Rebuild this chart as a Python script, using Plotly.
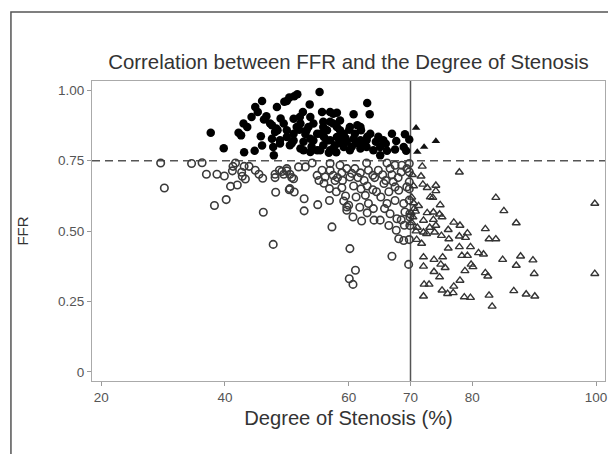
import plotly.graph_objects as go

# ---- data ----
# FFR > 0.75 and stenosis < 70 : filled circles
filled_circle_stenosis = [
    37.7, 39.8, 42.2, 42.6, 43.0, 43.6, 43.1, 44.8, 44.3, 44.9, 45.3, 46.0, 46.3, 46.7, 46.0, 45.8,
    47.3, 47.6, 47.6, 47.8, 47.9, 48.1, 48.4, 48.5, 48.3, 48.9, 48.9, 49.5, 49.6, 50.0, 50.0, 50.0,
    50.4, 50.5, 51.1, 51.1, 51.1, 51.2, 51.6, 51.7, 52.1, 52.2, 52.2, 52.6, 52.7, 52.7, 53.2, 53.7,
    53.8, 53.8, 53.8, 54.3, 54.3, 54.9, 54.9, 55.3, 55.4, 55.4, 55.7, 55.9, 55.9, 55.9, 56.5, 56.5,
    57.0, 57.0, 57.0, 57.0, 57.5, 57.5, 57.5, 58.1, 58.1, 58.1, 58.6, 58.6, 58.6, 58.9, 59.2, 59.2,
    59.7, 60.1, 60.2, 60.2, 60.8, 60.8, 61.0, 61.4, 61.9, 61.9, 61.9, 62.0, 62.4, 62.9, 62.9, 63.0,
    63.4, 63.5, 64.0, 64.4, 65.1, 65.1, 65.6, 66.2, 67.0, 67.7, 68.9, 69.1, 69.3, 69.8,
    50.8, 53.0, 54.0, 56.0, 57.8, 59.5, 60.5, 61.2, 63.0, 64.8, 66.0, 56.8, 58.0, 52.0, 53.5, 49.0, 67.5,
]
filled_circle_ffr = [
    0.849, 0.794, 0.849, 0.840, 0.882, 0.870, 0.780, 0.785, 0.905, 0.941, 0.923, 0.962, 0.896, 0.908, 0.804, 0.837,
    0.882, 0.876, 0.828, 0.799, 0.769, 0.852, 0.941, 0.858, 0.864, 0.811, 0.823, 0.882, 0.959, 0.962, 0.858, 0.834,
    0.974, 0.805, 0.899, 0.846, 0.822, 0.979, 0.870, 0.986, 0.905, 0.882, 0.793, 0.923, 0.817, 0.787, 0.858, 0.950,
    0.905, 0.828, 0.781, 0.882, 0.822, 0.846, 0.787, 0.994, 0.846, 0.787, 0.923, 0.888, 0.870, 0.805, 0.858, 0.822,
    0.923, 0.888, 0.823, 0.787, 0.917, 0.882, 0.793, 0.920, 0.870, 0.834, 0.893, 0.858, 0.822, 0.811, 0.846, 0.799,
    0.817, 0.860, 0.870, 0.787, 0.915, 0.828, 0.846, 0.876, 0.870, 0.823, 0.793, 0.858, 0.805, 0.823, 0.799, 0.955,
    0.915, 0.846, 0.787, 0.817, 0.799, 0.769, 0.823, 0.785, 0.846, 0.820, 0.799, 0.844, 0.785, 0.825,
    0.812, 0.845, 0.800, 0.834, 0.805, 0.830, 0.800, 0.812, 0.835, 0.835, 0.810, 0.778, 0.780, 0.860, 0.870, 0.900, 0.790,
]

# FFR <= 0.75 and stenosis < 70 : open circles
open_circle_stenosis = [
    29.6, 30.2, 34.6, 36.3, 37.0, 38.7, 39.9, 38.3, 40.2, 40.9, 42.0, 41.3, 41.7, 41.2, 42.7, 43.1,
    43.9, 43.3, 42.8, 44.9, 45.5, 46.1, 46.2, 47.8, 48.1, 48.1, 48.2, 48.8, 49.5, 50.0, 50.4, 50.5,
    51.1, 50.0, 51.9, 53.0, 54.1, 54.9, 55.7, 56.2, 57.0, 57.0, 57.5, 57.8, 58.6, 58.9, 59.7, 60.2,
    61.0, 61.9, 62.9, 63.2, 63.9, 64.8, 66.2, 66.7, 67.5, 68.6, 69.4, 50.5, 51.2, 52.8, 52.8, 55.0,
    56.9, 56.9, 58.9, 59.2, 60.0, 59.7, 60.7, 61.2, 62.1, 57.3, 60.2, 61.1, 60.1, 60.7, 62.7, 63.2,
    63.9, 64.0, 64.1, 65.1, 65.2, 65.7, 66.2, 66.7, 67.2, 67.5, 68.1, 67.5, 67.8, 67.7, 68.1, 68.9,
    69.0, 68.9, 69.4, 69.1, 69.7, 67.0, 69.9, 69.8, 69.8, 69.8, 69.8, 69.8, 69.9, 69.9, 69.8,
    55.2, 56.0, 58.2, 59.0, 60.5, 61.5, 62.5, 63.0, 64.2, 65.5, 66.0, 67.0, 68.0, 68.5, 60.8, 62.0,
    64.5, 66.5, 58.0, 59.5, 61.8, 63.0, 65.8, 66.5, 68.5, 59.7, 49.2, 50.8,
]
open_circle_ffr = [
    0.742, 0.653, 0.740, 0.743, 0.702, 0.702, 0.696, 0.591, 0.612, 0.659, 0.664, 0.730, 0.742, 0.714, 0.709, 0.730,
    0.730, 0.685, 0.695, 0.716, 0.702, 0.688, 0.567, 0.453, 0.702, 0.690, 0.638, 0.716, 0.702, 0.714, 0.647, 0.702,
    0.686, 0.722, 0.728, 0.728, 0.742, 0.698, 0.716, 0.692, 0.740, 0.716, 0.698, 0.680, 0.734, 0.707, 0.722, 0.692,
    0.722, 0.707, 0.742, 0.716, 0.698, 0.716, 0.742, 0.722, 0.734, 0.734, 0.722, 0.651, 0.639, 0.615, 0.572, 0.594,
    0.651, 0.609, 0.654, 0.607, 0.592, 0.574, 0.550, 0.621, 0.536, 0.515, 0.438, 0.361, 0.331, 0.311, 0.627, 0.598,
    0.647, 0.580, 0.539, 0.539, 0.621, 0.669, 0.598, 0.562, 0.675, 0.657, 0.645, 0.609, 0.544, 0.503, 0.473, 0.598,
    0.521, 0.467, 0.657, 0.568, 0.382, 0.411, 0.562, 0.740, 0.710, 0.675, 0.650, 0.610, 0.550, 0.520, 0.470,
    0.680, 0.670, 0.690, 0.680, 0.705, 0.690, 0.680, 0.660, 0.690, 0.700, 0.680, 0.700, 0.690, 0.710, 0.660, 0.650,
    0.640, 0.640, 0.640, 0.625, 0.585, 0.565, 0.580, 0.520, 0.540, 0.586, 0.712, 0.690,
]

# stenosis >= 70, FFR <= 0.75 : open triangles
open_triangle_stenosis = [
    71.9, 77.9, 71.7, 72.0, 74.1, 72.7, 74.1, 73.2, 73.6, 83.8, 74.8, 85.1, 99.8, 72.7, 73.7, 74.7,
    75.1, 72.1, 73.7, 87.1, 77.0, 78.0, 74.1, 73.1, 71.1, 76.1, 82.1, 72.1, 72.6, 73.9, 79.2, 77.9,
    75.0, 78.9, 76.2, 82.7, 83.8, 71.8, 79.7, 77.9, 76.1, 78.3, 79.2, 81.0, 81.8, 72.1, 75.2, 84.9,
    87.8, 89.8, 73.8, 74.9, 79.8, 87.1, 72.1, 75.6, 80.1, 73.8, 78.8, 82.1, 82.5, 74.7, 78.0, 90.0,
    99.8, 77.0, 72.2, 73.0, 75.1, 76.0, 76.9, 86.7, 88.7, 90.1, 72.1, 78.7, 79.7, 82.7, 83.2,
    70.3, 70.5, 70.2, 70.6, 70.1, 70.4, 70.8, 70.2, 70.9, 71.0, 70.5, 71.3,
]
open_triangle_ffr = [
    0.730, 0.709, 0.695, 0.666, 0.662, 0.654, 0.643, 0.621, 0.619, 0.619, 0.593, 0.572, 0.598, 0.565, 0.567, 0.560,
    0.550, 0.538, 0.541, 0.529, 0.531, 0.520, 0.520, 0.513, 0.513, 0.505, 0.508, 0.496, 0.491, 0.496, 0.493, 0.482,
    0.484, 0.477, 0.472, 0.472, 0.472, 0.456, 0.444, 0.444, 0.439, 0.413, 0.413, 0.423, 0.418, 0.408, 0.408, 0.399,
    0.411, 0.397, 0.399, 0.382, 0.382, 0.378, 0.375, 0.370, 0.373, 0.356, 0.359, 0.352, 0.340, 0.337, 0.325, 0.349,
    0.349, 0.304, 0.311, 0.311, 0.290, 0.278, 0.281, 0.288, 0.276, 0.269, 0.269, 0.266, 0.264, 0.272, 0.233,
    0.700, 0.660, 0.620, 0.580, 0.565, 0.550, 0.570, 0.530, 0.500, 0.470, 0.600, 0.590,
]

# stenosis >= 70, FFR > 0.75 : filled triangles
filled_triangle_stenosis = [70.9, 74.1, 72.2, 71.1]
filled_triangle_ffr = [0.867, 0.820, 0.799, 0.781]

# reference cut-offs
FFR_CUTOFF = 0.75
STENOSIS_CUTOFF = 70

x_ticks = [20, 40, 60, 70, 80, 100]
y_ticks = [0, 0.25, 0.5, 0.75, 1.0]
y_tick_labels = ["0", "0.25", "0.50", "0.75", "1.00"]

TITLE = "Correlation between FFR and the Degree of Stenosis"
X_TITLE = "Degree of Stenosis (%)"
Y_TITLE = "FFR"

# ---- figure ----
FONT = "Liberation Sans, Arial, Helvetica, sans-serif"
W, H = 608, 454
fig = go.Figure()

fig.add_trace(go.Scatter(
    x=open_circle_stenosis, y=open_circle_ffr, mode="markers",
    marker=dict(symbol="circle-open", size=7.5, color="#3a3a3a", line=dict(width=1.6, color="#3a3a3a")),
    hoverinfo="skip", showlegend=False))
fig.add_trace(go.Scatter(
    x=open_triangle_stenosis, y=open_triangle_ffr, mode="markers",
    marker=dict(symbol="triangle-up-open", size=7, color="#333333", line=dict(width=1.4, color="#333333")),
    hoverinfo="skip", showlegend=False))
fig.add_trace(go.Scatter(
    x=filled_triangle_stenosis, y=filled_triangle_ffr, mode="markers",
    marker=dict(symbol="triangle-up", size=7.5, color="#111111", line=dict(width=0)),
    hoverinfo="skip", showlegend=False))
fig.add_trace(go.Scatter(
    x=filled_circle_stenosis, y=filled_circle_ffr, mode="markers",
    marker=dict(symbol="circle", size=8.5, color="#000000", line=dict(width=0)),
    hoverinfo="skip", showlegend=False))

# reference lines
fig.add_shape(type="line", xref="paper", x0=0, x1=1, yref="y", y0=FFR_CUTOFF, y1=FFR_CUTOFF,
              line=dict(color="#555555", width=1.5, dash="8px,5px"), layer="below")
fig.add_shape(type="line", xref="x", x0=STENOSIS_CUTOFF, x1=STENOSIS_CUTOFF, yref="paper", y0=0, y1=1,
              line=dict(color="#555555", width=1.5), layer="below")

# outer frame of the picture (extends beyond the right/bottom edge)
fig.add_shape(type="rect", xref="paper", yref="paper", x0=-0.158, x1=1.2, y0=-0.6, y1=1.23,
              line=dict(color="#555555", width=1.5), fillcolor="rgba(0,0,0,0)", layer="below")

axis_common = dict(
    showgrid=False, zeroline=False, showline=True, linecolor="#aaaaaa", linewidth=1.2,
    mirror=True, ticks="outside", ticklen=4, tickwidth=1, tickcolor="#999999",
    tickfont=dict(family=FONT, size=13.5, color="#555555"),
)

fig.update_layout(
    width=W, height=H,
    margin=dict(l=92, r=3, t=81, b=73.3, autoexpand=False),
    paper_bgcolor="white", plot_bgcolor="white",
    font=dict(family=FONT, color="#333333"),
    title=dict(text=TITLE, x=0.5, xanchor="center", xref="paper",
               y=1 - 62 / H, yanchor="middle",
               font=dict(family=FONT, size=20.4, color="#333333")),
    xaxis=dict(range=[18.5, 101.45], tickvals=x_ticks, ticktext=[str(v) for v in x_ticks],
               title=dict(text=X_TITLE, font=dict(family=FONT, size=20.2, color="#333333"), standoff=6),
               automargin=False, **axis_common),
    yaxis=dict(range=[-0.032, 1.033], tickvals=y_ticks, ticktext=y_tick_labels,
               title=dict(text=Y_TITLE, font=dict(family=FONT, size=15, color="#333333"), standoff=25),
               automargin=False, **axis_common),
)

# remove the browser's default 8px body margin so the figure fills the window
fig.write_html("out.html", config={"displayModeBar": False},
               post_script="document.body.style.margin='0';document.body.style.overflow='hidden';")
